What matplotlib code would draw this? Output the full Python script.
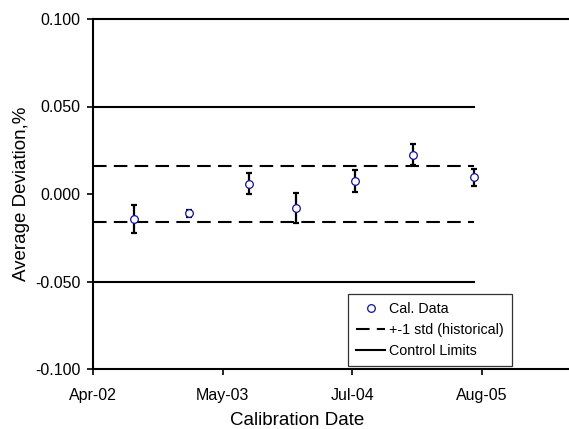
import pandas as pd
import matplotlib
matplotlib.use("Agg")
import matplotlib.pyplot as plt
import matplotlib.dates as mdates
from matplotlib.lines import Line2D

plt.rcParams['font.family'] = ['Liberation Sans', 'DejaVu Sans']

# calibration data
cal_dates = ["2002-08-22", "2003-02-12", "2003-08-21", "2004-01-17",
             "2004-07-20", "2005-01-20", "2005-08-01"]
avg_dev = [-0.014, -0.011, 0.006, -0.008, 0.0075, 0.0225, 0.0095]
dev_err = [0.008, 0.002, 0.006, 0.0083, 0.0065, 0.006, 0.005]

std_hist = 0.016
control_limit = 0.050
line_start = "2002-04-15"
line_end = "2005-08-01"

tick_dates = ["2002-04-15", "2003-05-30", "2004-07-13", "2005-08-27"]
tick_labels = ["Apr-02", "May-03", "Jul-04", "Aug-05"]
x_max = "2006-05-29"

x = mdates.date2num(pd.to_datetime(cal_dates))
xl = mdates.date2num(pd.to_datetime([line_start, line_end]))
xt = mdates.date2num(pd.to_datetime(tick_dates))
xmax = mdates.date2num(pd.to_datetime(x_max))

fig = plt.figure(figsize=(5.69, 4.29), dpi=100)
ax = fig.add_axes([93/569, 1-369/429, 1-93/569, 350/429])

ax.plot(xl, [control_limit]*2, color='black', lw=1.5)
ax.plot(xl, [-control_limit]*2, color='black', lw=1.5)
ax.plot(xl, [std_hist]*2, color='black', lw=1.5, dashes=(6.5, 3.5))
ax.plot(xl, [-std_hist]*2, color='black', lw=1.5, dashes=(6.5, 3.5))

ax.errorbar(x, avg_dev, yerr=dev_err, fmt='none', ecolor='black',
            elinewidth=1.6, capsize=2.2, capthick=1.6, zorder=3)
ax.plot(x, avg_dev, 'o', ms=5.5, mfc='white', mec='#10109a', mew=0.9,
        ls='none', zorder=4)

ax.set_xlim(xt[0], xmax)
ax.set_ylim(-0.1, 0.1)
ax.set_yticks([-0.1, -0.05, 0, 0.05, 0.1])
ax.set_yticklabels(["-0.100", "-0.050", "0.000", "0.050", "0.100"])
ax.set_xticks(xt)
ax.set_xticklabels(tick_labels)
ax.tick_params(direction='out', length=4, width=1.2, labelsize=11.5, pad=5)
ax.tick_params(axis='x', pad=9.5)

for s in ['left', 'bottom', 'top']:
    ax.spines[s].set_linewidth(1.5)
ax.spines['right'].set_visible(False)

ax.set_xlabel("Calibration Date", fontsize=13.5)
ax.xaxis.set_label_coords(0.4286, -0.122)
ax.set_ylabel("Average Deviation,%", fontsize=13.5, labelpad=4)

handles = [
    Line2D([], [], marker='o', ls='none', ms=5.5, mfc='white', mec='#10109a', mew=0.9),
    Line2D([], [], color='black', lw=1.5, dashes=(6.5, 3.5)),
    Line2D([], [], color='black', lw=1.5),
]
leg = ax.legend(handles, ["Cal. Data", "+-1 std (historical)", "Control Limits"],
                loc='lower left', bbox_to_anchor=(0.536, 0.009),
                borderaxespad=0, fontsize=10.3, frameon=True, fancybox=False,
                edgecolor='black', handlelength=2.05, handletextpad=0.25,
                labelspacing=0.5, borderpad=0.55)
leg.get_frame().set_linewidth(0.9)

fig.savefig("out.png", dpi=100)
